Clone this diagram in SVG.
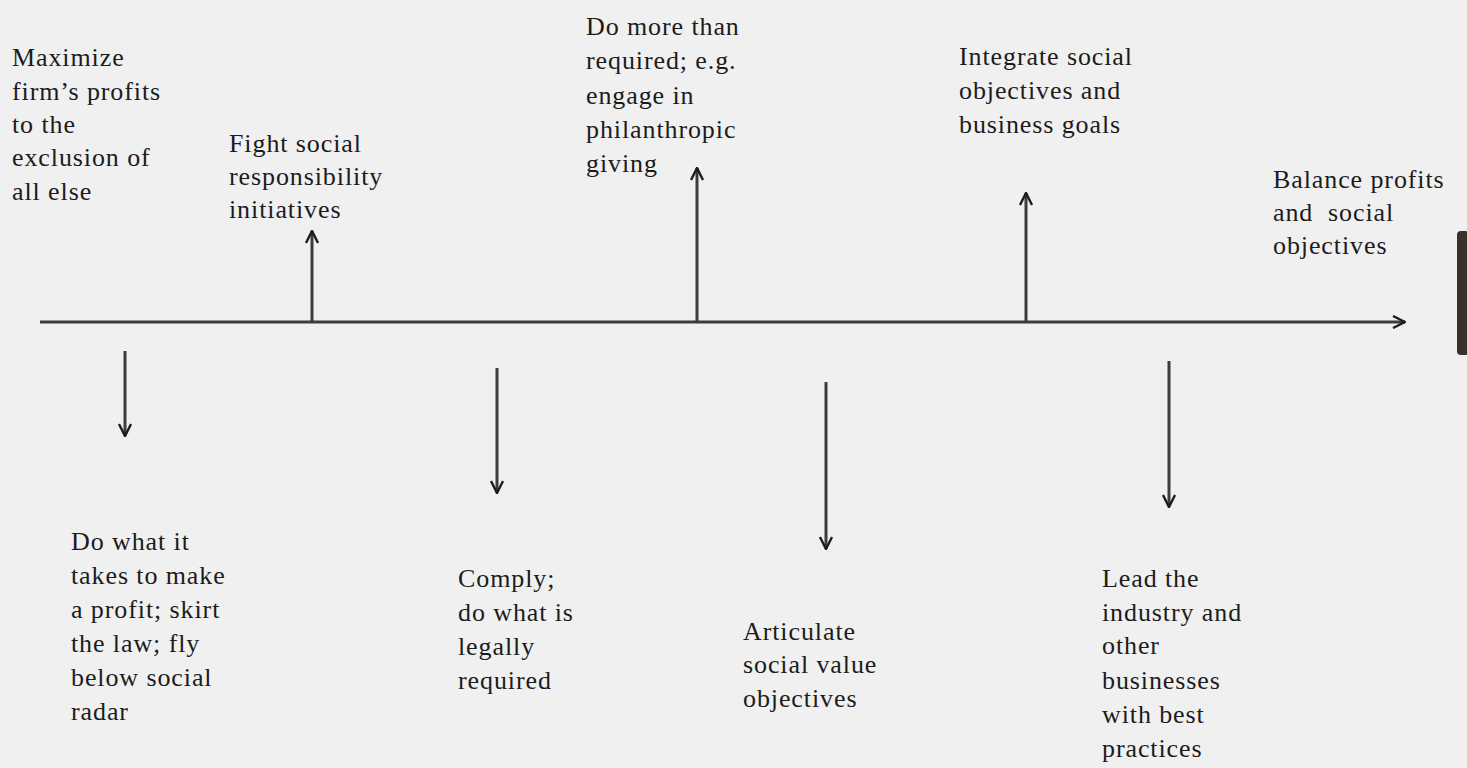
<svg xmlns="http://www.w3.org/2000/svg" width="1467" height="768" viewBox="0 0 1467 768">
<defs>
<marker id="open" viewBox="0 0 14 14" refX="13" refY="7" markerWidth="14" markerHeight="14" markerUnits="userSpaceOnUse" orient="auto">
<path d="M1,1 L13,7 L1,13" fill="none" stroke="#1e1e1e" stroke-width="2.4"/>
</marker>
</defs>
<style>
text{font-family:"Liberation Serif","Times New Roman",serif;font-size:26px;letter-spacing:0.9px;fill:#1c1c1c}
.ln{stroke:#3c3c3c;stroke-width:3;fill:none}
.ar{stroke:#3c3c3c;stroke-width:3;fill:none;marker-end:url(#open)}
</style>
<rect x="0" y="0" width="1467" height="768" fill="#f0f0f0"/>
<rect x="1457" y="231" width="12" height="124" rx="4" fill="#3a3129"/>
<g id="connectors">
<line class="ar" x1="40" y1="322" x2="1405" y2="322"/>
<line class="ar" x1="312" y1="322" x2="312" y2="231"/>
<line class="ar" x1="697" y1="322" x2="697" y2="168"/>
<line class="ar" x1="1026" y1="322" x2="1026" y2="193"/>
<line class="ar" x1="125" y1="351" x2="125" y2="436"/>
<line class="ar" x1="497" y1="368" x2="497" y2="493"/>
<line class="ar" x1="826" y1="382" x2="826" y2="549"/>
<line class="ar" x1="1169" y1="361" x2="1169" y2="507"/>
</g>
<g id="n1"><text x="12" y="66">Maximize</text><text x="12" y="100">firm’s profits</text><text x="12" y="133">to the</text><text x="12" y="166">exclusion of</text><text x="12" y="200">all else</text></g>
<g id="n2"><text x="229" y="152">Fight social</text><text x="229" y="185">responsibility</text><text x="229" y="218">initiatives</text></g>
<g id="n3"><text x="586" y="35">Do more than</text><text x="586" y="69">required; e.g.</text><text x="586" y="104">engage in</text><text x="586" y="138">philanthropic</text><text x="586" y="172">giving</text></g>
<g id="n4"><text x="959" y="65">Integrate social</text><text x="959" y="99">objectives and</text><text x="959" y="133">business goals</text></g>
<g id="n5"><text x="1273" y="188">Balance profits</text><text x="1273" y="221" xml:space="preserve">and  social</text><text x="1273" y="254">objectives</text></g>
<g id="n6"><text x="71" y="550">Do what it</text><text x="71" y="584">takes to make</text><text x="71" y="618">a profit; skirt</text><text x="71" y="652">the law; fly</text><text x="71" y="686">below social</text><text x="71" y="720">radar</text></g>
<g id="n7"><text x="458" y="587">Comply;</text><text x="458" y="621">do what is</text><text x="458" y="655">legally</text><text x="458" y="689">required</text></g>
<g id="n8"><text x="743" y="640">Articulate</text><text x="743" y="673">social value</text><text x="743" y="707">objectives</text></g>
<g id="n9"><text x="1102" y="587">Lead the</text><text x="1102" y="621">industry and</text><text x="1102" y="654">other</text><text x="1102" y="689">businesses</text><text x="1102" y="723">with best</text><text x="1102" y="757">practices</text></g>
</svg>
